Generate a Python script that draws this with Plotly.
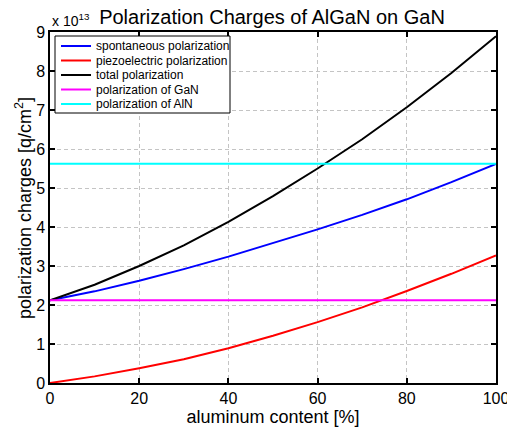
import plotly.graph_objects as go

# Aluminum content of AlGaN [%]
al_content = [0, 10, 20, 30, 40, 50, 60, 70, 80, 90, 100]

# Polarization charge densities, in units of 1e13 q/cm^2
spontaneous = [2.12, 2.35, 2.62, 2.92, 3.24, 3.58, 3.94, 4.31, 4.71, 5.15, 5.62]
piezoelectric = [0.00, 0.17, 0.38, 0.61, 0.89, 1.21, 1.56, 1.94, 2.36, 2.80, 3.27]
total = [2.12, 2.52, 3.00, 3.53, 4.13, 4.79, 5.50, 6.25, 7.07, 7.95, 8.89]
gan_level = 2.12
aln_level = 5.62

x_ticks = [0, 20, 40, 60, 80, 100]
y_ticks = [0, 1, 2, 3, 4, 5, 6, 7, 8, 9]

FONT = "Liberation Sans, Arial, sans-serif"

# figure / plot-area geometry in pixels
W, H = 507, 427
ML, MR, MT, MB = 50, 11, 32, 44
PW, PH = W - ML - MR, H - MT - MB


def px_to_paper_x(px):
    return (px - ML) / PW


def px_to_paper_y(py):
    return (H - MB - py) / PH


fig = go.Figure()
series = [
    ("spontaneous polarization", al_content, spontaneous, "#0000ff"),
    ("piezoelectric polarization", al_content, piezoelectric, "#ff0000"),
    ("total polarization", al_content, total, "#000000"),
    ("polarization of GaN", [0, 100], [gan_level, gan_level], "#ff00ff"),
    ("polarization of AlN", [0, 100], [aln_level, aln_level], "#00ffff"),
]
for name, xs, ys, color in series:
    fig.add_trace(go.Scatter(x=xs, y=ys, mode="lines", name=name,
                             line=dict(color=color, width=2),
                             showlegend=False))

axis_common = dict(
    showline=True, linecolor="black", linewidth=1.5, mirror="ticks",
    ticks="inside", ticklen=5, tickwidth=1.5, tickcolor="black",
    showgrid=True, gridcolor="#c4c4c4", griddash="4px,3px", gridwidth=1,
    zeroline=False, automargin=False,
    tickfont=dict(family=FONT, size=16, color="black"),
)

fig.update_layout(
    width=W, height=H,
    margin=dict(l=ML, r=MR, t=MT, b=MB),
    paper_bgcolor="white", plot_bgcolor="white",
    font=dict(family=FONT, color="black"),
    title=dict(text="Polarization Charges of AlGaN on GaN",
               font=dict(family=FONT, size=20, color="black"),
               xref="paper", x=px_to_paper_x(272), xanchor="center",
               y=0.96, yanchor="middle"),
    xaxis=dict(range=[0, 100], tickvals=x_ticks, ticklabeloverflow="allow",
               title=dict(text="aluminum content [%]",
                          font=dict(family=FONT, size=18), standoff=1),
               **axis_common),
    yaxis=dict(range=[0, 9], tickvals=y_ticks, **axis_common),
    showlegend=False,
)

# y-axis title, placed as a rotated label beside the tick labels
fig.add_annotation(text="polarization charges [q/cm<sup>2</sup>]",
                   xref="paper", yref="paper",
                   x=px_to_paper_x(24), y=px_to_paper_y(208),
                   xanchor="center", yanchor="middle", textangle=-90,
                   showarrow=False,
                   font=dict(family=FONT, size=18, color="black"))

fig.add_annotation(text="x 10<sup>13</sup>", xref="paper", yref="paper",
                   x=0.0, y=1.0, xanchor="left", yanchor="bottom",
                   showarrow=False, yshift=1,
                   font=dict(family=FONT, size=14, color="black"))

# Legend box drawn in the upper-left corner of the axes
LEG_LEFT, LEG_RIGHT, LEG_TOP, LEG_BOTTOM = 55, 230, 36, 113
LEG_ROW0, LEG_ROW_STEP = 46, 14.5
SAMPLE_X0, SAMPLE_X1, LABEL_X = 61, 91, 94

fig.add_shape(type="rect", xref="paper", yref="paper",
              x0=px_to_paper_x(LEG_LEFT), x1=px_to_paper_x(LEG_RIGHT),
              y0=px_to_paper_y(LEG_BOTTOM), y1=px_to_paper_y(LEG_TOP),
              line=dict(color="black", width=1), fillcolor="white",
              layer="above")
for i, (name, _, _, color) in enumerate(series):
    yrow = px_to_paper_y(LEG_ROW0 + i * LEG_ROW_STEP)
    fig.add_shape(type="line", xref="paper", yref="paper",
                  x0=px_to_paper_x(SAMPLE_X0), x1=px_to_paper_x(SAMPLE_X1),
                  y0=yrow, y1=yrow, line=dict(color=color, width=2),
                  layer="above")
    fig.add_annotation(text=name, xref="paper", yref="paper",
                       x=px_to_paper_x(LABEL_X), y=yrow,
                       xanchor="left", yanchor="middle", showarrow=False,
                       font=dict(family=FONT, size=12, color="black"))

fig.write_html("out.html")
